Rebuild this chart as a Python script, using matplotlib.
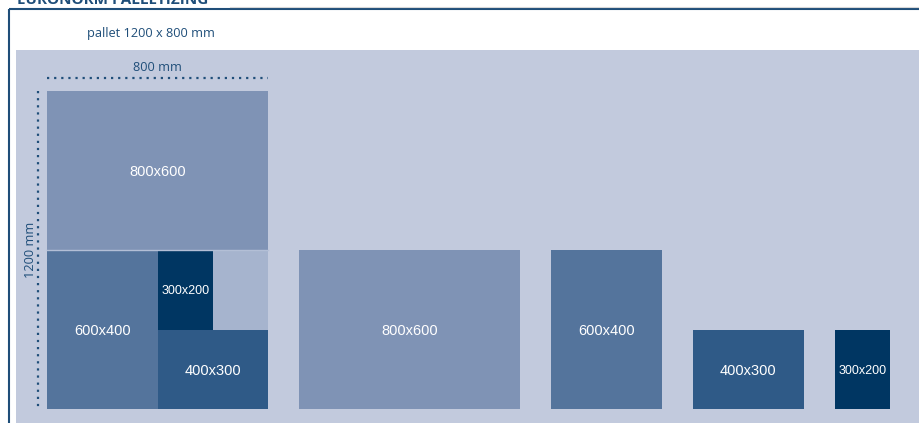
import matplotlib.pyplot as plt
from matplotlib.patches import Rectangle

### DATA
# crates stacked on the pallet (mm): label, x, y, width, height
pallet_w, pallet_h = 800, 1200
stack_labels = ["800x600", "600x400", "300x200", "", "400x300"]
stack_x = [0, 0, 400, 600, 400]
stack_y = [0, 600, 600, 600, 900]
stack_w = [800, 400, 200, 200, 400]
stack_h = [600, 600, 300, 300, 300]
stack_colors = ["#7f93b5", "#54749c", "#003662", "#a6b4ce", "#2f5a87"]

# single crates shown next to the pallet
crate_labels = ["800x600", "600x400", "400x300", "300x200"]
crate_w = [800, 400, 400, 200]
crate_h = [600, 600, 300, 300]
crate_colors = ["#7f93b5", "#54749c", "#2f5a87", "#003662"]
crate_gap = 113

title = "EURONORM PALLETIZING"
subtitle = "pallet 1200 x 800 mm"
dark = "#1f4e79"

### FIGURE: one axes over the whole figure, data in mm
W, H = 919, 423
x0, y0 = 47, 91              # pallet top-left corner in pixels
sx, sy = 0.27625, 0.265      # pixels per mm
fig = plt.figure(figsize=(W / 100, H / 100), dpi=100)
ax = fig.add_axes([0, 0, 1, 1])
ax.set_xlim(-x0 / sx, (W - x0) / sx)
ax.set_ylim((H - y0) / sy, -y0 / sy)
ax.axis("off")

def px(x, y):
    # pixel position -> mm data coords (for decoration only)
    return (x - x0) / sx, (y - y0) / sy

# light panel + frame
bx, by = px(16, 50)
ax.add_patch(Rectangle((bx, by), (W - 16) / sx, (H - 50) / sy, color="#c2cadd", lw=0, zorder=0))
lx, ly = px(9, 9.5)
ax.plot([lx, W / sx], [ly, ly], color=dark, lw=1.5, solid_capstyle="butt", clip_on=False)
ax.plot([lx, lx], [ly, H / sy], color=dark, lw=1.5, solid_capstyle="butt", clip_on=False)
gx, gy = px(230, 7.5)
ax.plot([gx, W / sx], [gy, gy], color="#d8d8d8", lw=0.8)

# title is cut at the top edge, as in the source image
tx, ty = px(17, 4)
ax.text(tx, ty, title, color=dark, fontsize=11, fontweight="bold", family="Open Sans",
        va="baseline", ha="left")
sx_, sy_ = px(151, 33)
ax.text(sx_, sy_, subtitle, color=dark, fontsize=9.2, family="Open Sans", ha="center", va="center")

# pallet stack
for lab, x, y, w, h, c in zip(stack_labels, stack_x, stack_y, stack_w, stack_h, stack_colors):
    ax.add_patch(Rectangle((x, y), w, h, color=c, lw=0, zorder=2))
    if lab:
        fs = 9 if w <= 200 else 10.5
        ax.text(x + w / 2, y + h / 2, lab, color="white", fontsize=fs, family="Liberation Sans",
                ha="center", va="center_baseline", zorder=3)
ax.plot([0, pallet_w], [600, 600], color="#b3bfd6", lw=1, zorder=3)

# dimension lines
dy = px(0, 78)[1]
ax.plot([0, pallet_w], [dy, dy], color=dark, lw=1.6, ls=(0, (1, 2.2)))
ax.text(pallet_w / 2, px(0, 67.5)[1], "800 mm", color=dark, fontsize=9.2, family="Open Sans",
        ha="center", va="center")
dx = px(38, 0)[0]
ax.plot([dx, dx], [0, pallet_h], color=dark, lw=1.6, ls=(0, (1, 2.2)))
ax.text(px(31, 0)[0], pallet_h / 2, "1200 mm", color=dark, fontsize=9.2, family="Open Sans",
        ha="center", va="center", rotation=90)

# single crates
cx = pallet_w + crate_gap
for lab, w, h, c in zip(crate_labels, crate_w, crate_h, crate_colors):
    ax.add_patch(Rectangle((cx, pallet_h - h), w, h, color=c, lw=0, zorder=2))
    fs = 9 if w <= 200 else 10.5
    ax.text(cx + w / 2, pallet_h - h / 2, lab, color="white", fontsize=fs, family="Liberation Sans",
            ha="center", va="center_baseline", zorder=3)
    cx += w + crate_gap

fig.savefig("out.png", dpi=100)
